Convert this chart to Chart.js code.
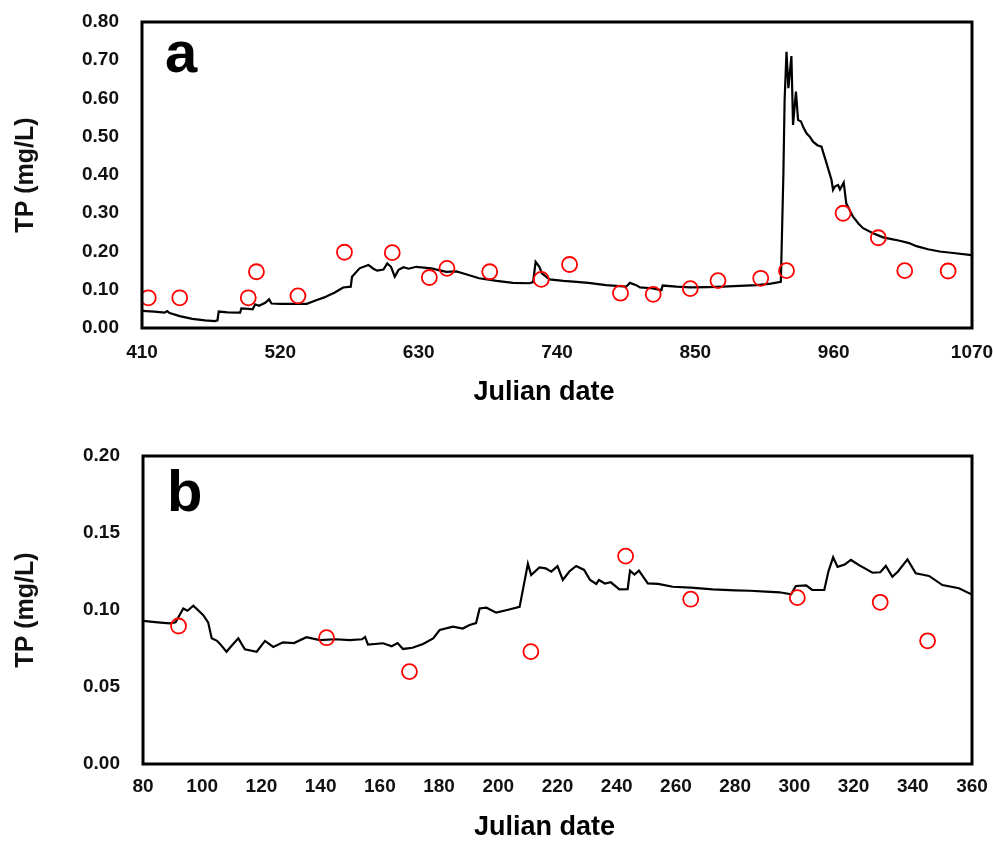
<!DOCTYPE html>
<html>
<head>
<meta charset="utf-8">
<script src="https://cdn.jsdelivr.net/npm/chart.js@4"></script>
<style>
  body { margin: 0; background: #fff; }
  canvas { display: block; }
</style>
</head>
<body>
<canvas id="chartA" width="993" height="420"></canvas>
<canvas id="chartB" width="993" height="421"></canvas>
<script>
// Panel a: simulated TP (line) and observed TP (circles)
const dayA = [410, 420, 428, 430, 432, 440, 450, 460, 468, 470, 471, 478, 488, 489, 495, 498, 500, 503, 508, 511,
  513, 520, 530, 541, 549, 555, 559, 563, 567, 570, 576, 577, 583, 590, 594, 597, 602, 605, 608, 611,
  614, 618, 622, 628, 640, 652, 660, 665, 678, 692, 705, 718, 721, 723, 726, 728, 734, 745, 753, 765,
  779, 795, 798, 803, 806, 815, 823, 824, 835, 846, 860, 872, 885, 899, 910, 918, 920, 921, 922.5, 924,
  926.4, 927.7, 930, 931.7, 934, 935.7, 938.4, 941, 943.6, 947, 950.3, 954.3, 958.3, 959.5, 961, 963.5, 965, 968, 970, 975.4,
  980, 983.4, 991.3, 999.3, 1005, 1012.5, 1020, 1025.8, 1035, 1044.3, 1055, 1068, 1070];
const tpA = [0.045, 0.043, 0.040, 0.044, 0.039, 0.031, 0.024, 0.020, 0.018, 0.020, 0.043, 0.041, 0.040, 0.051, 0.050, 0.049, 0.062, 0.058, 0.066, 0.075,
  0.064, 0.063, 0.063, 0.063, 0.073, 0.080, 0.086, 0.092, 0.100, 0.106, 0.108, 0.134, 0.156, 0.165, 0.155, 0.150, 0.153, 0.169, 0.160, 0.134,
  0.152, 0.159, 0.155, 0.160, 0.156, 0.147, 0.148, 0.143, 0.130, 0.123, 0.118, 0.117, 0.120, 0.173, 0.160, 0.143, 0.127, 0.123, 0.121, 0.118,
  0.112, 0.108, 0.118, 0.112, 0.106, 0.104, 0.099, 0.111, 0.108, 0.106, 0.107, 0.108, 0.110, 0.112, 0.116, 0.121, 0.400, 0.596, 0.722, 0.627,
  0.711, 0.531, 0.618, 0.544, 0.540, 0.526, 0.509, 0.500, 0.487, 0.478, 0.474, 0.431, 0.387, 0.361, 0.370, 0.374, 0.362, 0.380, 0.326, 0.291,
  0.272, 0.261, 0.248, 0.237, 0.233, 0.228, 0.222, 0.214, 0.206, 0.200, 0.196, 0.191, 0.190];
const obsDayA = [415, 440, 494.5, 501, 534, 571, 609, 638.5, 652.5, 686.5, 727.5, 750, 790.5, 816.5, 846, 868, 902, 922.5, 967.5, 995.5, 1016.5, 1051];
const obsTpA = [0.079, 0.079, 0.079, 0.147, 0.084, 0.198, 0.197, 0.132, 0.156, 0.147, 0.127, 0.166, 0.091, 0.088, 0.103, 0.124, 0.130, 0.150, 0.300, 0.236, 0.150, 0.149];

// Panel b
const dayB = [80, 85, 89, 91, 93.6, 95, 97, 100.3, 102, 103.2, 105, 106, 108.2, 110, 112.2, 114.4, 118.4, 121.2, 124, 127.3,
  131, 135.2, 139.7, 145, 149.8, 154, 155, 156, 161.1, 164, 166, 167.8, 171, 174.6, 178, 180.2, 184.7, 188, 190.3, 192.5,
  193.7, 196, 199.3, 203, 207.2, 210, 211.1, 213.9, 216, 217.9, 220, 221.8, 224, 226.3, 229, 231, 233.1, 234, 236, 238,
  240.9, 243.7, 244.5, 246, 247.5, 250.5, 254, 258.9, 265, 272.4, 280, 285, 290.4, 295, 298.9, 300.5, 304, 306, 310.1, 311.5,
  313.1, 314.6, 317, 319.1, 322, 326.4, 329, 330.9, 333.1, 335, 338.2, 341, 345.5, 350, 355.6, 360];
const tpB = [0.093, 0.092, 0.0913, 0.092, 0.101, 0.0995, 0.1028, 0.0968, 0.092, 0.0816, 0.080, 0.078, 0.0729, 0.077, 0.0816, 0.0745, 0.0729, 0.0799, 0.076, 0.079,
  0.0785, 0.0823, 0.0805, 0.081, 0.0805, 0.081, 0.0825, 0.0775, 0.0784, 0.0765, 0.0785, 0.0747, 0.0755, 0.0779, 0.0816, 0.087, 0.0892, 0.0880, 0.0903, 0.0915,
  0.101, 0.1015, 0.0983, 0.100, 0.102, 0.130, 0.1227, 0.1277, 0.127, 0.1249, 0.1285, 0.1195, 0.125, 0.1286, 0.126, 0.1195, 0.1169, 0.1195, 0.1172, 0.118,
  0.1134, 0.1135, 0.1255, 0.123, 0.1255, 0.1173, 0.117, 0.1151, 0.1145, 0.1134, 0.1128, 0.1125, 0.1119, 0.1115, 0.1102, 0.1156, 0.116, 0.113, 0.113, 0.125,
  0.1342, 0.128, 0.1295, 0.1325, 0.129, 0.1242, 0.1245, 0.1286, 0.1216, 0.125, 0.1329, 0.1238, 0.1221, 0.1162, 0.1141, 0.1100];
const obsDayB = [92, 142, 170, 211, 243, 265, 301, 329, 345];
const obsTpB = [0.0896, 0.082, 0.060, 0.073, 0.135, 0.107, 0.108, 0.105, 0.080];

Chart.defaults.font.family = '"Liberation Sans", Arial, sans-serif';
Chart.defaults.font.weight = 'bold';
Chart.defaults.color = '#111';

const toXY = (xs, ys) => xs.map((x, i) => ({ x, y: ys[i] }));

// frame round the plot, panel letter and x title
const framePlugin = {
    id: 'frame',
    afterDraw(chart, args, opts) {
        const { ctx, chartArea: { left, top, right, bottom } } = chart;
        ctx.save();
        ctx.strokeStyle = '#000';
        ctx.lineWidth = 3;
        ctx.strokeRect(left, top, right - left, bottom - top);
        ctx.fillStyle = '#000';
        ctx.font = 'bold 58px "Liberation Sans", Arial, sans-serif';
        ctx.textBaseline = 'alphabetic';
        ctx.fillText(opts.letter, opts.letterX, opts.letterY);
        ctx.font = 'bold 27px "Liberation Sans", Arial, sans-serif';
        ctx.textAlign = 'center';
        ctx.textBaseline = 'middle';
        ctx.fillText('Julian date', (left + right) / 2 - 13, opts.titleY);
        ctx.restore();
    },
};

// keep tick labels from pushing the plot area in
const noPad = s => { s.paddingLeft = 0; s.paddingRight = 0; s.paddingTop = 0; s.paddingBottom = 0; };

function makeChart(id, cfg) {
    return new Chart(document.getElementById(id), {
        type: 'scatter',
        plugins: [framePlugin],
        data: {
            datasets: [
                {
                    data: toXY(cfg.lineX, cfg.lineY),
                    showLine: true,
                    borderColor: '#000',
                    borderWidth: 2.2,
                    pointRadius: 0,
                    tension: 0,
                    order: 2,
                },
                {
                    data: toXY(cfg.obsX, cfg.obsY),
                    showLine: false,
                    pointStyle: 'circle',
                    pointRadius: 7.5,
                    borderColor: '#ff0000',
                    backgroundColor: 'rgba(0,0,0,0)',
                    borderWidth: 1.8,
                    order: 1,
                },
            ],
        },
        options: {
            responsive: false,
            animation: false,
            events: [],
            layout: { padding: { top: cfg.top, right: 21, left: 0, bottom: 0 } },
            plugins: {
                legend: { display: false },
                tooltip: { enabled: false },
                frame: { letter: cfg.letter, letterX: cfg.letterX, letterY: cfg.letterY, titleY: cfg.titleY },
            },
            scales: {
                x: {
                    type: 'linear',
                    min: cfg.xMin,
                    max: cfg.xMax,
                    grid: { display: false, drawTicks: false },
                    border: { display: false },
                    afterFit: s => { s.height = cfg.xHeight; noPad(s); },
                    ticks: {
                        stepSize: cfg.xStep,
                        padding: cfg.xPad,
                        maxRotation: 0,
                        autoSkip: false,
                        font: { size: 19, weight: 'bold' },
                        color: '#111',
                        callback: v => String(v),
                    },
                },
                y: {
                    min: 0,
                    max: cfg.yMax,
                    grid: { display: false, drawTicks: false },
                    border: { display: false },
                    afterFit: s => { s.width = cfg.yWidth; noPad(s); },
                    ticks: {
                        stepSize: cfg.yStep,
                        padding: 23,
                        font: { size: 19, weight: 'bold' },
                        color: '#111',
                        callback: v => v.toFixed(2),
                    },
                    title: {
                        display: true,
                        text: 'TP (mg/L)',
                        font: { size: 25, weight: 'bold' },
                        color: '#111',
                        padding: { top: 11, bottom: 0 },
                    },
                },
            },
        },
    });
}

makeChart('chartA', {
    lineX: dayA, lineY: tpA, obsX: obsDayA, obsY: obsTpA,
    xMin: 410, xMax: 1070, xStep: 110, yMax: 0.8, yStep: 0.1,
    top: 22, xHeight: 92, yWidth: 142, xPad: 13,
    letter: 'a', letterX: 165, letterY: 72, titleY: 393,
});

makeChart('chartB', {
    lineX: dayB, lineY: tpB, obsX: obsDayB, obsY: obsTpB,
    xMin: 80, xMax: 360, xStep: 20, yMax: 0.2, yStep: 0.05,
    top: 36, xHeight: 77, yWidth: 143, xPad: 11,
    letter: 'b', letterX: 167, letterY: 91, titleY: 408,
});
</script>
</body>
</html>
